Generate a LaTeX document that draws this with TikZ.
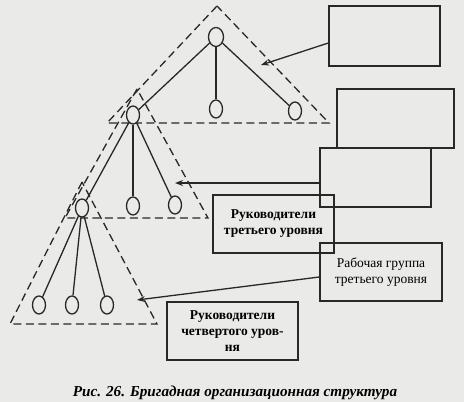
\documentclass[tikz,border=0pt]{standalone}
\usepackage{fontspec}
\setmainfont{Liberation Serif}
\usetikzlibrary{arrows.meta,shapes.geometric}
\definecolor{bg}{RGB}{234,234,232}
\definecolor{ink}{RGB}{40,40,40}
\begin{document}
\begin{tikzpicture}[x=1pt,y=-1pt,
  dsh/.style={line width=1.3pt,draw=ink,dash pattern=on 8pt off 4.5pt},
  ln/.style={line width=1.3pt,draw=ink},
  posn/.style={ellipse,draw=ink,line width=1.3pt,minimum width=13pt,minimum height=18pt,inner sep=0pt,fill=bg},
  box/.style={rectangle,draw=ink,line width=1.3pt,inner sep=0pt,align=center,font=\fontsize{13.5}{16}\selectfont},
  arr/.style={line width=1.3pt,draw=ink,-{Stealth[length=8pt,width=6pt]}}
]
\useasboundingbox (0,0) rectangle (464,402);
\fill[bg] (0,0) rectangle (464,402);
% dashed triangles
\draw[dsh] (217,6) -- (107,123) -- (329,123) -- cycle;
\draw[dsh] (137,89) -- (65,218) -- (208,218) -- cycle;
\draw[dsh] (82,182) -- (10,324) -- (157,324) -- cycle;
% position nodes
\node[posn,minimum width=15pt,minimum height=19pt] (n1) at (216,37) {};
\node[posn] (n2) at (133,115) {};
\node[posn] (n3) at (216,109) {};
\node[posn] (n4) at (295,111) {};
\node[posn] (n5) at (82,208) {};
\node[posn] (n6) at (133,206) {};
\node[posn] (n7) at (175,205) {};
\node[posn] (n8) at (39,305) {};
\node[posn] (n9) at (72,305) {};
\node[posn] (n10) at (107,305) {};
\foreach \a/\b in {n1/n2,n1/n3,n1/n4,n2/n5,n2/n6,n2/n7,n5/n8,n5/n9,n5/n10}
  \draw[ln] (\a) -- (\b);
% boxes
\node[box,minimum width=111pt,minimum height=60pt] (b1) at (384.5,36) {};
\node[box,minimum width=117pt,minimum height=59pt] (b2) at (395.5,118.5) {};
\node[box,minimum width=111pt,minimum height=59pt] (b3) at (375.5,177.5) {};
\node[box,minimum width=121pt,minimum height=58pt] (b4) at (273.5,224) {\bfseries Руководители\\\bfseries третьего уровня};
\node[box,minimum width=122pt,minimum height=58pt] (b5) at (381,272) {Рабочая группа\\третьего уровня};
\node[box,minimum width=131pt,minimum height=58pt] (b6) at (232.5,331) {\bfseries Руководители\\\bfseries четвертого уров-\\\bfseries ня};
% arrows
\coordinate (t1) at (261,65);
\coordinate (t3) at (175,183);
\coordinate (t5) at (137,300);
\draw[arr] ([yshift=-7pt]b1.west) -- (t1);
\draw[arr] ([yshift=-5.5pt]b3.west) -- (t3);
\draw[arr] ([yshift=-5pt]b5.west) -- (t5);
% caption
\node[font=\fontsize{15.2}{18}\selectfont\bfseries\itshape] (cap) at (235,393) {Рис. 26. Бригадная организационная структура};
\end{tikzpicture}
\end{document}
